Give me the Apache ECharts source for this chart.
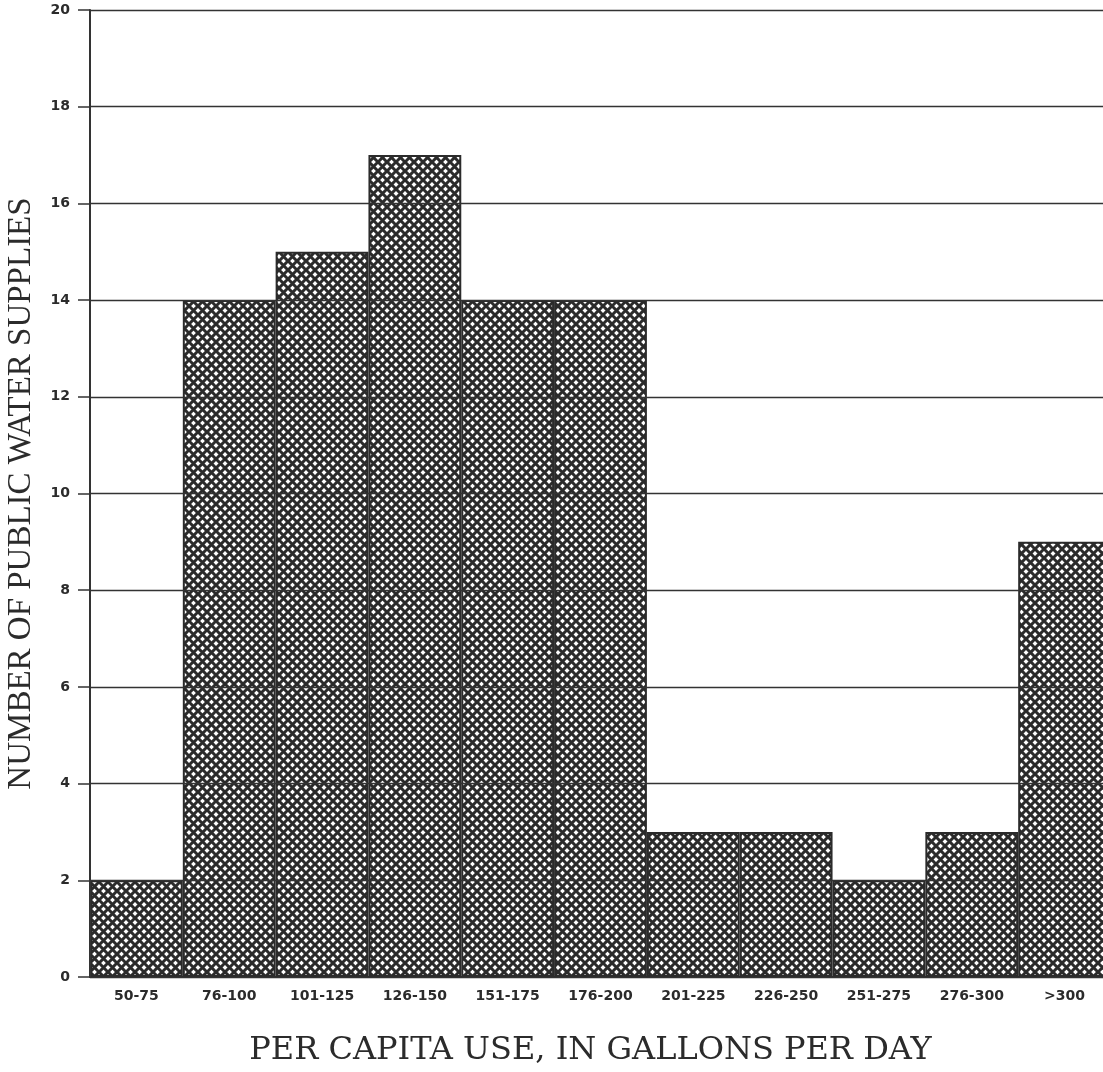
<!DOCTYPE html>
<html>
<head>
<meta charset="utf-8">
<script src="https://cdn.jsdelivr.net/npm/echarts@6/dist/echarts.min.js"></script>
<style>
  html, body { margin: 0; padding: 0; background: #fff; }
  #chart { width: 1103px; height: 1072px; }
</style>
</head>
<body>
<div id="chart"></div>
<script>
// per capita use classes (gallons per day)
var categories = ['50-75', '76-100', '101-125', '126-150', '151-175', '176-200',
                  '201-225', '226-250', '251-275', '276-300', '>300'];
// number of public water supplies in each class
var supplies = [2, 14, 15, 17, 14, 14, 3, 3, 2, 3, 9];
var yTicks = [0, 2, 4, 6, 8, 10, 12, 14, 16, 18, 20];

// crosshatch fill, like the old plotter hatching
function hatch() {
    var s = 9;
    var c = document.createElement('canvas');
    c.width = s; c.height = s;
    var g = c.getContext('2d');
    g.fillStyle = '#fff';
    g.fillRect(0, 0, s, s);
    g.strokeStyle = '#2b2b2b';
    g.lineWidth = 3;
    for (var k = -1; k <= 1; k++) {
        g.beginPath();
        g.moveTo(k * s, 0); g.lineTo(k * s + s, s);
        g.moveTo(k * s + s, 0); g.lineTo(k * s, s);
        g.stroke();
    }
    return c;
}

var chart = echarts.init(document.getElementById('chart'));
var boldTick = { fontFamily: 'DejaVu Sans', fontWeight: 'bold', fontSize: 14, color: '#2b2b2b' };

var option = {
    animation: false,
    grid: { left: 90, right: -8, top: 10, bottom: 95, containLabel: false, outerBoundsMode: 'none' },
    xAxis: {
        type: 'category',
        data: categories,
        name: 'PER CAPITA USE, IN GALLONS PER DAY',
        nameLocation: 'middle',
        nameGap: 58,
        nameTextStyle: { fontFamily: 'DejaVu Serif', fontSize: 32, color: '#2b2b2b', padding: [0, 20, 0, 0] },
        axisLine: { lineStyle: { color: '#333', width: 2 } },
        axisTick: { show: false },
        axisLabel: Object.assign({ margin: 12, interval: 0 }, boldTick)
    },
    yAxis: {
        type: 'value',
        min: 0, max: 20, interval: 2,
        z: 10,
        name: 'NUMBER OF PUBLIC WATER SUPPLIES',
        nameLocation: 'middle',
        nameGap: 52,
        nameTextStyle: { fontFamily: 'Liberation Serif', fontSize: 33, color: '#2b2b2b' },
        axisLine: { show: true, lineStyle: { color: '#333', width: 2 } },
        axisTick: { show: true, length: 12, inside: false, lineStyle: { color: '#333', width: 1.5 } },
        splitLine: { show: true, lineStyle: { color: '#333', width: 1.3 } },
        axisLabel: Object.assign({ margin: 20 }, boldTick)
    },
    series: [{
        type: 'bar',
        data: supplies,
        barCategoryGap: '0%',
        itemStyle: {
            color: { image: hatch(), repeat: 'repeat' },
            borderColor: '#2b2b2b',
            borderWidth: 2
        }
    }]
};
chart.setOption(option);
</script>
</body>
</html>
